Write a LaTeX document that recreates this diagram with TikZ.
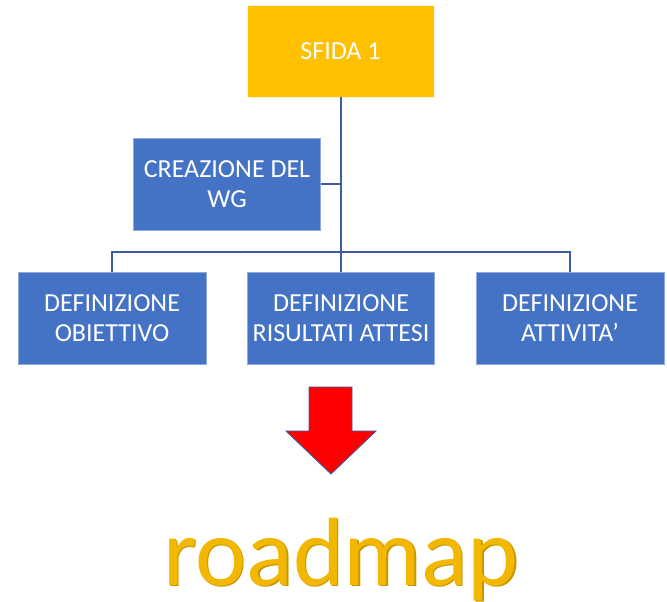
\documentclass[tikz,border=0pt]{standalone}
\usepackage{fontspec}
\setmainfont{Carlito}
\definecolor{gold}{RGB}{255,192,0}
\definecolor{boxblue}{RGB}{68,114,196}
\definecolor{linkblue}{RGB}{62,92,160}
\definecolor{rmgold}{RGB}{242,183,0}
\definecolor{rmshadow}{RGB}{200,150,0}
\begin{document}
\begin{tikzpicture}[x=1pt,y=-1pt,
  boxbase/.style={minimum width=187pt,minimum height=92pt,inner sep=0pt,align=center,
    text=white,font=\fontsize{26}{30}\selectfont},
  goldbox/.style={boxbase,fill=gold,draw=white!85!gold,line width=0.8pt},
  bluebox/.style={boxbase,fill=boxblue,draw=boxblue!60!white,line width=0.8pt},
  link/.style={draw=linkblue,line width=1.6pt}]
\useasboundingbox (0,0) rectangle (667,602);
\node[goldbox] (sfida) at (340.5,51) {SFIDA 1};
\node[bluebox] (wg) at (227,184) {CREAZIONE DEL\\WG};
\node[bluebox,minimum width=188pt] (d1) at (112,318) {DEFINIZIONE\\OBIETTIVO};
\node[bluebox] (d2) at (341,318) {DEFINIZIONE\\RISULTATI ATTESI};
\node[bluebox,minimum width=188pt] (d3) at (570,318) {DEFINIZIONE\\ATTIVITA’};
\coordinate (br) at (341,252);
\draw[link] (sfida.south -| d2.north) -- (d2.north);
\draw[link] (d1.north) |- (br) -| (d3.north);
\draw[link] (wg.east) -- (wg.east -| d2.north);
\draw[fill=red,draw=linkblue,line width=0.9pt,line join=miter]
  (309,387) -- (352,387) -- (352,431) -- (376,431) -- (331,474) -- (286,431) -- (309,431) -- cycle;
\node[anchor=base,text=rmshadow,font=\fontsize{97}{100}\selectfont] (rms) at (342.5,586.5) {roadmap};
\node[anchor=base,text=rmgold,font=\fontsize{97}{100}\selectfont] (rm) at (341,585) {roadmap};
\end{tikzpicture}
\end{document}
